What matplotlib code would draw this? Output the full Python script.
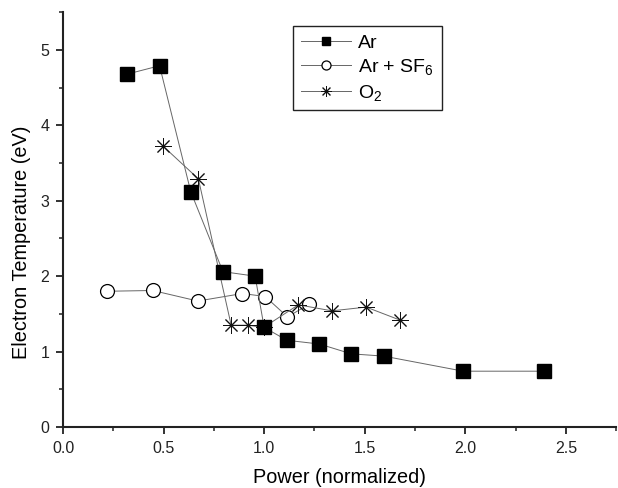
import numpy as np
import matplotlib
matplotlib.use("Agg")
import matplotlib.pyplot as plt
from matplotlib.ticker import MultipleLocator

plt.rcParams['font.family'] = ['Liberation Sans', 'DejaVu Sans']
plt.rcParams['mathtext.fontset'] = 'custom'
plt.rcParams['mathtext.rm'] = 'Liberation Sans'
plt.rcParams['mathtext.it'] = 'Liberation Sans'

# data
ar_x = [0.32, 0.48, 0.635, 0.795, 0.955, 1.00, 1.113, 1.275, 1.433, 1.594, 1.99, 2.39]
ar_y = [4.68, 4.79, 3.12, 2.06, 2.00, 1.32, 1.15, 1.10, 0.97, 0.94, 0.74, 0.74]

sf6_x = [0.22, 0.446, 0.67, 0.892, 1.005, 1.116, 1.225]
sf6_y = [1.80, 1.81, 1.67, 1.77, 1.73, 1.46, 1.63]

o2_x = [0.499, 0.673, 0.836, 0.919, 0.997, 1.17, 1.337, 1.507, 1.673]
o2_y = [3.72, 3.29, 1.35, 1.35, 1.32, 1.62, 1.54, 1.59, 1.42]

fig = plt.figure(figsize=(6.18, 4.88), dpi=100)
ax = fig.add_axes([0.102, 0.125, 0.895, 0.85])

line_kw = dict(color='#666666', linewidth=0.7)
ax.plot(ar_x, ar_y, marker='s', markersize=9.5, markerfacecolor='black',
        markeredgecolor='black', label='Ar', zorder=3, **line_kw)
ax.plot(sf6_x, sf6_y, marker='o', markersize=10, markerfacecolor='white',
        markeredgecolor='black', markeredgewidth=0.9, label='Ar + SF$_6$', zorder=2, **line_kw)
ax.plot(o2_x, o2_y, marker=(8, 2, 0), markersize=12, markerfacecolor='black',
        markeredgecolor='#111111', markeredgewidth=0.7, label='O$_2$', zorder=2, **line_kw)

ax.set_xlim(0, 2.75)
ax.set_ylim(0, 5.5)
ax.xaxis.set_major_locator(MultipleLocator(0.5))
ax.xaxis.set_minor_locator(MultipleLocator(0.25))
ax.yaxis.set_major_locator(MultipleLocator(1))
ax.yaxis.set_minor_locator(MultipleLocator(0.5))
ax.xaxis.set_major_formatter(plt.FuncFormatter(lambda v, p: f"{v:.1f}"))

for side in ['top', 'right']:
    ax.spines[side].set_visible(False)
for side in ['left', 'bottom']:
    ax.spines[side].set_linewidth(1.5)
    ax.spines[side].set_color('#222222')

ax.tick_params(which='major', direction='out', length=5, width=1.3, labelsize=11.5,
               colors='#222222', pad=5)
ax.tick_params(which='minor', direction='out', length=3, width=1.1, colors='#222222')

ax.set_xlabel('Power (normalized)', fontsize=14.3, labelpad=8.5)
ax.set_ylabel('Electron Temperature (eV)', fontsize=14.3)
ax.yaxis.set_label_coords(-0.058, 0.445)

leg = ax.legend(loc='upper left', bbox_to_anchor=(0.416, 0.966), fontsize=14,
                fancybox=False, edgecolor='#222222', framealpha=1, borderpad=0.4,
                handlelength=2.6, handletextpad=0.35, labelspacing=0.28,
                markerscale=0.65, borderaxespad=0)
leg.get_frame().set_linewidth(1.0)

fig.savefig('out.png', dpi=100)
